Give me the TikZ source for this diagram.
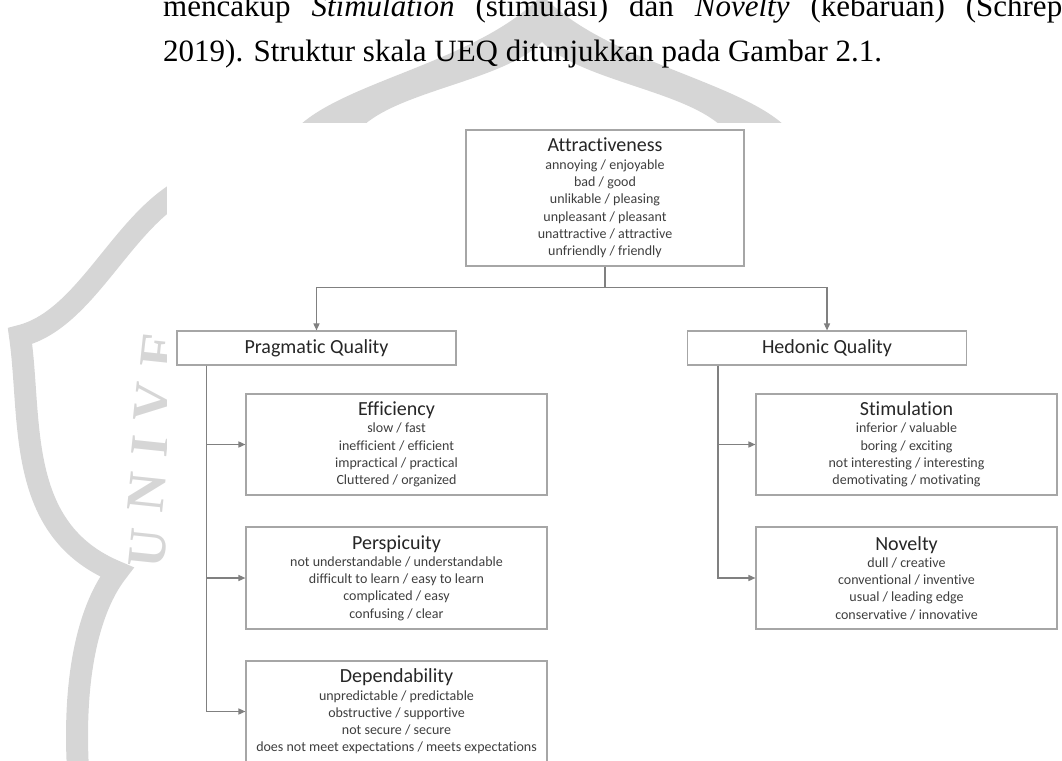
\documentclass[tikz,border=0pt]{standalone}
\usepackage{fontspec}
\setmainfont{Carlito}[Ligatures=NoCommon]
\newfontfamily\pageserif{Liberation Serif}
\usetikzlibrary{arrows.meta}

\definecolor{boxline}{HTML}{A6A6A6}
\definecolor{linkgray}{HTML}{808080}
\definecolor{titlegray}{HTML}{262626}
\definecolor{itemgray}{HTML}{3F3F3F}
\definecolor{markgray}{HTML}{D6D6D6}

\newcommand{\facet}[1]{{\fontsize{20}{20}\selectfont\color{titlegray}#1}}

\begin{document}
\begin{tikzpicture}[x=1pt, y=-1pt]
\tikzstyle{box}=[draw=boxline, line width=1.1pt, fill=white, align=center, inner sep=0pt, text=itemgray, font=\fontsize{14}{17.3}\selectfont];
\tikzstyle{head}=[box, minimum width=279, minimum height=34, text=titlegray, font=\fontsize{20}{20}\selectfont];
\tikzstyle{link}=[draw=linkgray, line width=1.4pt, -{Triangle[length=7pt,width=6pt]}];
\tikzstyle{prose}=[anchor=base west, inner sep=0pt, font=\pageserif\fontsize{31}{31}\selectfont];
\useasboundingbox (0,0) rectangle (1062,760);

% watermark behind the figure
\fill[markgray] (300,125) .. controls (350,80) and (480,60) .. (542,-5) .. controls (604,60) and (734,80) .. (784,125)
  -- (720,125) .. controls (680,90) and (580,80) .. (542,42) .. controls (504,80) and (404,90) .. (364,125) -- cycle;
\draw[markgray, line width=22pt, line join=miter] (182,190) .. controls (120,225) and (85,320) .. (20,336)
  .. controls (32,420) and (15,530) .. (117,572) .. controls (95,600) and (72,660) .. (78,770);
\foreach \ch/\px/\py [count=\k] in {U/148/548, N/147/492, I/150/446, V/153/402, E/160/350}
  \node[rotate=84, text=markgray, font=\pageserif\bfseries\fontsize{54}{54}\selectfont] (mark\k) at (\px,\py) {\ch};
\fill[white] (167,123) rectangle (1062,760);

% running text of the page
\node[prose] (line1) at (163,17) {\spaceskip=21pt mencakup \textit{Stimulation} (stimulasi) dan \textit{Novelty} (kebaruan) (Schrepp};
\node[prose] (line2) at (163,61) {2019). Struktur skala UEQ ditunjukkan pada Gambar 2.1.};

% scales
\node[box, minimum width=278, minimum height=136] (attr) at (605,198) {\facet{Attractiveness}\\annoying / enjoyable\\bad / good\\unlikable / pleasing\\unpleasant / pleasant\\unattractive / attractive\\unfriendly / friendly};
\node[head] (prag) at (316.5,348) {Pragmatic Quality};
\node[head] (hedo) at (827,348) {Hedonic Quality};
\node[box, minimum width=301, minimum height=101] (effi) at (396.5,444.5) {\facet{Efficiency}\\slow / fast\\inefficient / efficient\\impractical / practical\\Cluttered / organized};
\node[box, minimum width=301, minimum height=102] (pers) at (396.5,578) {\facet{Perspicuity}\\not understandable / understandable\\difficult to learn / easy to learn\\complicated / easy\\confusing / clear};
\node[box, minimum width=301, minimum height=101] (depe) at (396.5,711.5) {\facet{Dependability}\\unpredictable / predictable\\obstructive / supportive\\not secure / secure\\does not meet expectations / meets expectations};
\node[box, minimum width=301, minimum height=101] (stim) at (906.5,444.5) {\facet{Stimulation}\\inferior / valuable\\boring / exciting\\not interesting / interesting\\demotivating / motivating};
\node[box, minimum width=301, minimum height=102] (nove) at (906.5,578) {\facet{Novelty}\\dull / creative\\conventional / inventive\\usual / leading edge\\conservative / innovative};

\draw[link] (attr.south) -- ++(0,21) -| (prag.north);
\draw[link] (attr.south) -- ++(0,21) -| (hedo.north);
\draw[link] ([xshift=30pt]prag.south west) |- (effi.west);
\draw[link] ([xshift=30pt]prag.south west) |- (pers.west);
\draw[link] ([xshift=30pt]prag.south west) |- (depe.west);
\draw[link] ([xshift=31pt]hedo.south west) |- (stim.west);
\draw[link] ([xshift=31pt]hedo.south west) |- (nove.west);
\end{tikzpicture}
\end{document}
